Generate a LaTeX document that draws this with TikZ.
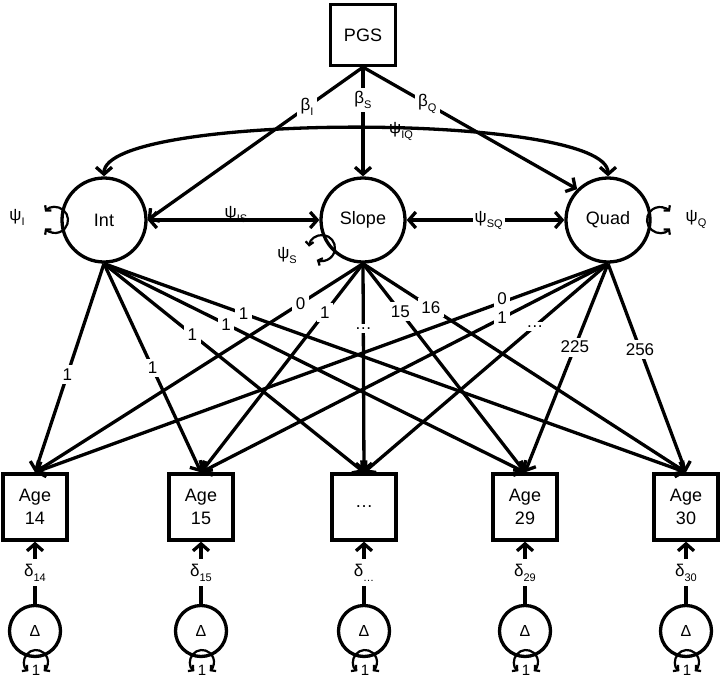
\documentclass[tikz,border=0pt]{standalone}
\usepackage{fontspec}
\setmainfont{Liberation Sans}
\usetikzlibrary{arrows.meta}
\newcommand\sbs[1]{\raisebox{-5pt}{\fontsize{11}{11}\selectfont #1}}
\begin{document}
\begin{tikzpicture}[x=1pt,y=-1pt,
  line width=3.3pt,
  lat/.style={circle,draw,line width=3.3pt,minimum size=84pt,inner sep=0pt,font=\fontsize{18}{20}\selectfont},
  obs/.style={rectangle,draw,line width=3.3pt,minimum width=64pt,minimum height=66pt,inner sep=0pt,align=center,font=\fontsize{18}{23}\selectfont},
  err/.style={circle,draw,line width=3.3pt,minimum size=51pt,inner sep=0pt,font=\fontsize{16}{16}\selectfont},
  arr/.style={line width=3.3pt,-{Straight Barb[length=7pt,width=16pt]}},
  dbl/.style={line width=3.3pt,{Straight Barb[length=7pt,width=16pt]}-{Straight Barb[length=7pt,width=16pt]}},
  lp/.style={line width=2.2pt,{Straight Barb[length=3.5pt,width=8pt]}-{Straight Barb[length=3.5pt,width=8pt]}},
  lab/.style={fill=white,inner sep=3.5pt,font=\fontsize{17}{17}\selectfont},
  plab/.style={inner sep=1pt,font=\fontsize{17}{17}\selectfont},
  onelab/.style={inner sep=0pt,font=\fontsize{15}{15}\selectfont},
]
\useasboundingbox (0,0) rectangle (720,680);

% nodes
\node[obs,minimum width=65pt,minimum height=61pt] (PGS) at (363,35) {PGS};
\node[lat] (I) at (104,220) {Int};
\node[lat] (S) at (363,220) {Slope};
\node[lat] (Q) at (608,220) {Quad};

\node[obs] (A14) at (35,507) {Age\\14};
\node[obs] (A15) at (201,507) {Age\\15};
\node[obs] (AD) at (364,507) {…};
\node[obs] (A29) at (525,507) {Age\\29};
\node[obs] (A30) at (686,507) {Age\\30};

\node[err] (D14) at (35,631) {Δ};
\node[err] (D15) at (201,631) {Δ};
\node[err] (DD) at (364,631) {Δ};
\node[err] (D29) at (525,631) {Δ};
\node[err] (D30) at (686,631) {Δ};

% regressions on PGS
\draw[arr] (PGS.south) -- node[lab,pos=.26]{β\sbs{I}} (I.east);
\draw[arr] (PGS.south) -- node[lab,pos=.3]{β\sbs{S}} (S.north);
\draw[arr] (PGS.south) -- node[lab,pos=.3]{β\sbs{Q}} (Q.135);

% covariances
\draw[dbl] (I.north) .. controls (104,112) and (608,112) .. (Q.north);
\node[plab] (psiIQ) at (401,131) {ψ\sbs{IQ}};
\draw[dbl] (I.east) -- (S.west);
\node[plab] (psiIS) at (236,214) {ψ\sbs{IS}};
\draw[dbl] (S.east) -- node[lab,inner sep=2pt,pos=.52]{ψ\sbs{SQ}} (Q.west);

% variances
\draw[lp] (55,220) ++(220:13) arc[start angle=220, end angle=500, radius=13];
\node[plab] (psiI) at (17,217) {ψ\sbs{I}};
\draw[lp] (322,248) ++(186:13) arc[start angle=186, end angle=474, radius=13];
\node[plab] (psiS) at (287,255) {ψ\sbs{S}};
\draw[lp] (660,220) ++(40:13) arc[start angle=40, end angle=320, radius=13];
\node[plab] (psiQ) at (696,219) {ψ\sbs{Q}};

% loadings Int
\draw[arr] (I.south) -- node[lab,pos=.53]{1} (A14.north);
\draw[arr] (I.south) -- node[lab,pos=.5]{1} (A15.north);
\draw[arr] (I.south) -- node[lab,pos=.34]{1} (AD.north);
\draw[arr] (I.south) -- node[lab,pos=.29]{1} (A29.north);
\draw[arr] (I.south) -- node[lab,pos=.24]{1} (A30.north);
% loadings Slope
\draw[arr] (S.south) -- node[lab,pos=.19]{0} (A14.north);
\draw[arr] (S.south) -- node[lab,pos=.235]{1} (A15.north);
\draw[arr] (S.south) -- node[lab,pos=.31]{…} (AD.north);
\draw[arr] (S.south) -- node[lab,pos=.23]{15} (A29.north);
\draw[arr] (S.south) -- node[lab,pos=.21]{16} (A30.north);
% loadings Quad
\draw[arr] (Q.south) -- node[lab,pos=.185,yshift=4pt]{0} (A14.north);
\draw[arr] (Q.south) -- node[lab,pos=.26]{1} (A15.north);
\draw[arr] (Q.south) -- node[lab,pos=.3]{…} (AD.north);
\draw[arr] (Q.south) -- node[lab,pos=.4]{225} (A29.north);
\draw[arr] (Q.south) -- node[lab,pos=.41]{256} (A30.north);

% residuals
\draw[arr] (D14.north) -- node[lab,inner sep=5pt]{δ\sbs{14}} (A14.south);
\draw[arr] (D15.north) -- node[lab,inner sep=5pt]{δ\sbs{15}} (A15.south);
\draw[arr] (DD.north) -- node[lab,inner sep=5pt]{δ\sbs{…}} (AD.south);
\draw[arr] (D29.north) -- node[lab,inner sep=5pt]{δ\sbs{29}} (A29.south);
\draw[arr] (D30.north) -- node[lab,inner sep=5pt]{δ\sbs{30}} (A30.south);

% unit variances of Delta
\foreach \n/\x in {D14/35,D15/201,DD/364,D29/525,D30/686}{
  \draw[lp] (\x+1,662) ++(130:12) arc[start angle=130, end angle=410, radius=12];
  \node[onelab] at (\x+1,670) {1};
}
\end{tikzpicture}
\end{document}
